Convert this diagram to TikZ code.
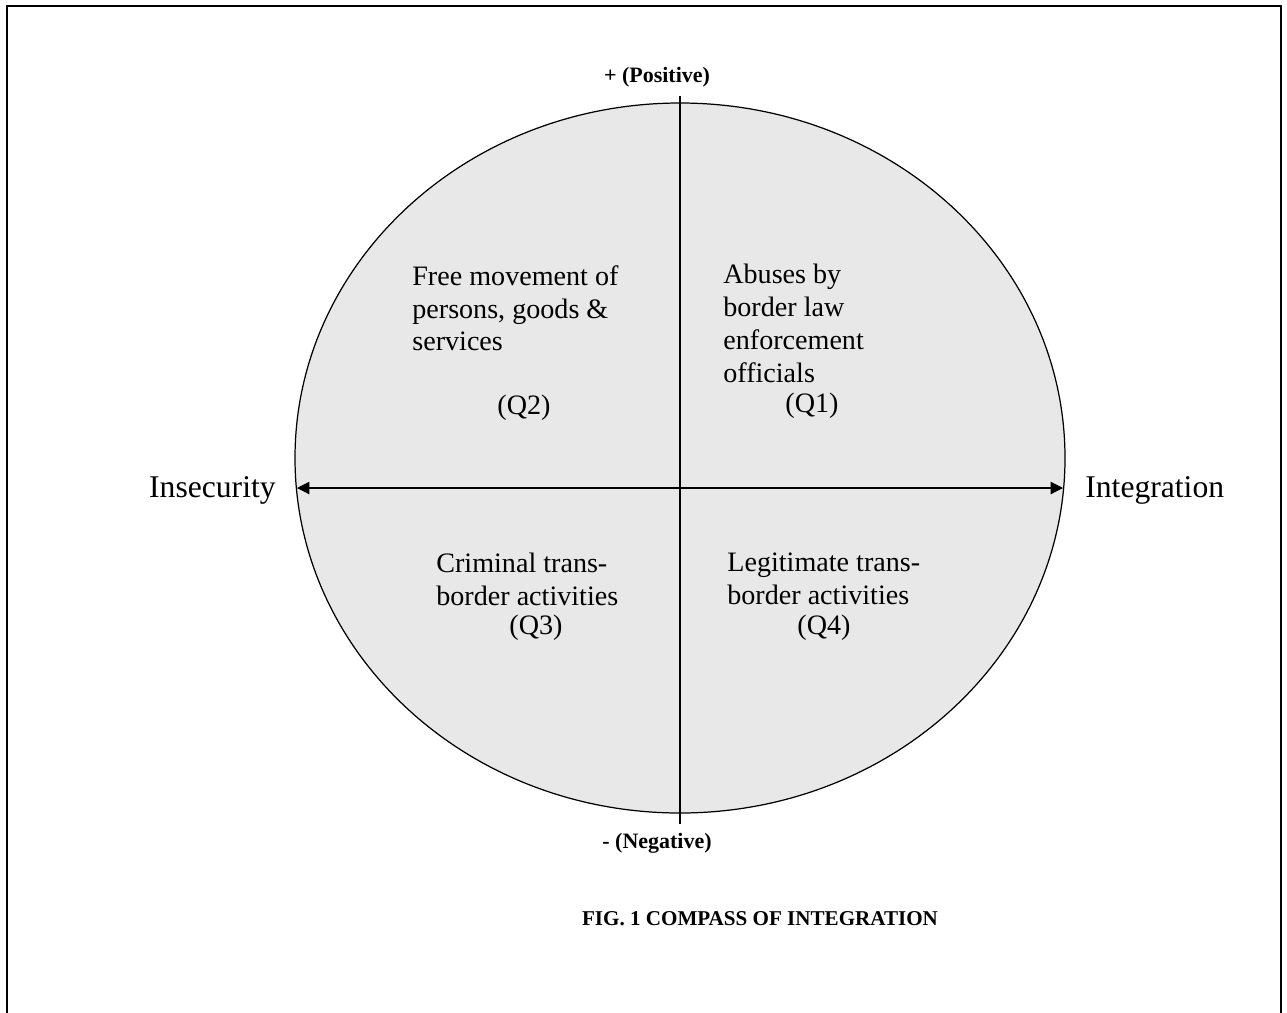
\documentclass[tikz,border=0pt]{standalone}
\usepackage{fontspec}
\setmainfont{Liberation Serif}
\usetikzlibrary{arrows.meta}
\definecolor{quadfill}{RGB}{232,232,232}

\begin{document}
\begin{tikzpicture}[x=0.02cm,y=-0.02cm]
\tikzstyle{frame} = [line width=1.2pt]
\tikzstyle{pole} = [font=\bfseries\fontsize{12.5}{15}\selectfont, inner sep=0]
\tikzstyle{side} = [font=\fontsize{18}{21}\selectfont, inner sep=0]
\tikzstyle{quad} = [font=\fontsize{16}{18.7}\selectfont, align=left, inner sep=0, anchor=north west]
\tikzstyle{qlabel} = [font=\fontsize{16}{18.7}\selectfont, inner sep=0]
\tikzstyle{Achse} = [{Triangle[length=7pt,width=7pt]}-{Triangle[length=7pt,width=7pt]}, line width=0.6pt]

\useasboundingbox (0,0) rectangle (1287,1012);
\draw [frame] (7,1013) -- (7,6) -- (1281,6) -- (1281,1013);

% compass
\draw [fill=quadfill, line width=0.7pt] (680,458) ellipse [x radius=385, y radius=355];
\coordinate (W) at (297,488);
\coordinate (E) at (1063,488);
\coordinate (N) at (680,96);
\coordinate (S) at (680,824);
\draw [line width=0.6pt] (N) -- (S);
\draw [Achse] (W) -- (E);

\node [pole] (pos) at (657,77) {+ (Positive)};
\node [pole] (neg) at (657,843) {- (Negative)};
\node [side, anchor=east] (insec) at (276,490) {Insecurity};
\node [side, anchor=west] (integ) at (1085,490) {Integration};

% quadrants
\node [quad] (q2text) at (412,265) {Free movement of\\persons, goods \&\\services};
\node [quad] (q1text) at (723,264) {Abuses by\\border law\\enforcement\\officials};
\node [quad] (q3text) at (436,553) {Criminal trans-\\border activities};
\node [quad] (q4text) at (727,553) {Legitimate trans-\\border activities};
\node [qlabel] (q2) at (524,408) {(Q2)};
\node [qlabel] (q1) at (812,406) {(Q1)};
\node [qlabel] (q3) at (536,628) {(Q3)};
\node [qlabel] (q4) at (824,628) {(Q4)};

\node [font=\bfseries\fontsize{12}{14}\selectfont] (title) at (760,919) {FIG. 1 COMPASS OF INTEGRATION};
\end{tikzpicture}
\end{document}
